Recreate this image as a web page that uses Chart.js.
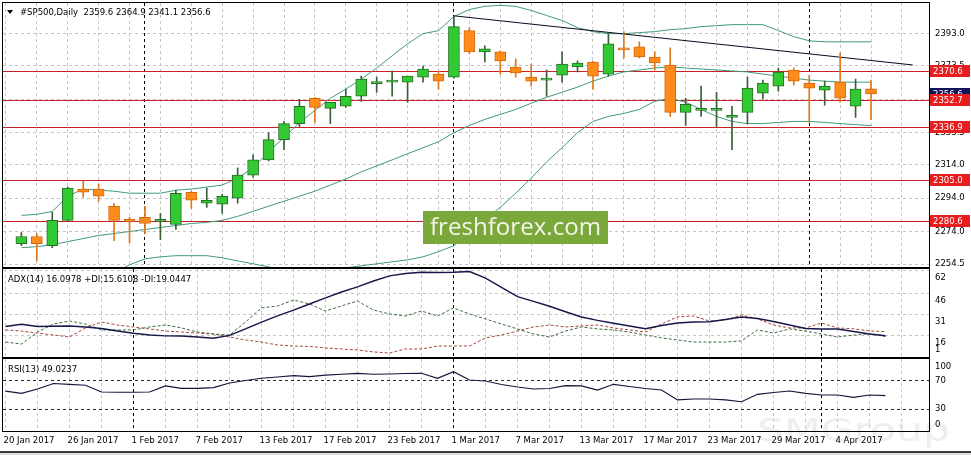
<!DOCTYPE html>
<html>
<head>
<meta charset="utf-8">
<title>#SP500,Daily</title>
<script src="https://cdn.jsdelivr.net/npm/chart.js@4.4.1/dist/chart.umd.min.js"></script>
<style>
  html, body { margin: 0; padding: 0; background: #fff; }
  #wrap { position: relative; width: 971px; height: 455px; overflow: hidden; background: #fff; }
  canvas { position: absolute; left: 0; }
</style>
</head>
<body>
<div id="wrap">
  <canvas id="main" width="971" height="268" style="top:0px"></canvas>
  <canvas id="adx" width="971" height="90" style="top:268px"></canvas>
  <canvas id="rsi" width="971" height="97" style="top:358px"></canvas>
</div>
<script>
// ---- data ----
const dateLabels = ['20 Jan 2017', '26 Jan 2017', '1 Feb 2017', '7 Feb 2017', '13 Feb 2017', '17 Feb 2017',
  '23 Feb 2017', '1 Mar 2017', '7 Mar 2017', '13 Mar 2017', '17 Mar 2017', '23 Mar 2017', '29 Mar 2017', '4 Apr 2017'];
const monthStarts = [8, 28, 51];

const open = [2266.7, 2271.0, 2265.5, 2280.7, 2299.5, 2299.5, 2289.2, 2281.3, 2282.5, 2280.1,
  2278.2, 2297.6, 2291.0, 2290.4, 2294.0, 2307.9, 2317.0, 2329.2, 2338.8, 2354.0,
  2347.9, 2349.2, 2355.2, 2362.8, 2363.7, 2363.7, 2366.7, 2368.5, 2366.7, 2394.6,
  2381.9, 2381.9, 2372.8, 2366.7, 2364.9, 2367.9, 2372.8, 2375.8, 2368.5, 2383.7,
  2384.9, 2378.8, 2374.0, 2345.5, 2346.7, 2346.7, 2342.5, 2345.5, 2357.0, 2361.3,
  2371.0, 2363.1, 2358.8, 2363.7, 2349.2, 2359.6];
const high = [2273.4, 2272.8, 2285.5, 2300.7, 2304.3, 2302.5, 2291.0, 2282.5, 2289.2, 2284.9,
  2298.8, 2298.2, 2300.1, 2296.4, 2312.2, 2320.1, 2333.4, 2340.1, 2353.4, 2354.6,
  2351.6, 2359.5, 2367.3, 2366.7, 2370.4, 2367.3, 2373.4, 2370.4, 2403.1, 2396.4,
  2385.5, 2382.5, 2377.6, 2374.6, 2371.0, 2381.9, 2376.4, 2376.4, 2392.8, 2394.0,
  2387.9, 2381.9, 2384.3, 2354.0, 2361.3, 2357.6, 2349.2, 2366.7, 2364.9, 2372.2,
  2372.2, 2367.9, 2364.3, 2381.3, 2365.5, 2364.9];
const low = [2265.5, 2256.4, 2264.3, 2280.1, 2294.6, 2292.2, 2268.5, 2267.3, 2272.8, 2269.2,
  2275.2, 2287.9, 2288.5, 2284.9, 2291.0, 2306.7, 2316.4, 2323.1, 2337.0, 2339.5,
  2338.8, 2348.5, 2352.2, 2357.6, 2355.2, 2351.6, 2363.7, 2359.5, 2366.1, 2380.7,
  2375.8, 2368.5, 2366.7, 2361.3, 2355.2, 2363.7, 2369.8, 2359.5, 2367.3, 2378.2,
  2378.2, 2371.0, 2343.1, 2337.6, 2343.1, 2337.0, 2323.1, 2338.8, 2353.4, 2358.2,
  2361.9, 2339.5, 2349.8, 2351.6, 2342.5, 2341.1];
const close = [2271.0, 2266.7, 2280.7, 2300.1, 2297.6, 2295.2, 2280.7, 2280.1, 2278.8, 2281.3,
  2297.0, 2292.8, 2292.8, 2295.2, 2307.9, 2317.0, 2329.2, 2338.8, 2349.2, 2348.5,
  2351.6, 2355.2, 2365.5, 2363.7, 2364.9, 2367.3, 2371.6, 2364.3, 2397.0, 2381.9,
  2383.7, 2376.4, 2369.2, 2364.3, 2366.1, 2374.6, 2375.2, 2367.3, 2386.7, 2383.1,
  2378.8, 2375.2, 2345.5, 2350.4, 2347.9, 2347.3, 2343.7, 2360.1, 2363.1, 2369.8,
  2364.3, 2360.1, 2361.3, 2354.0, 2359.5, 2356.6];

const bbUpper = [2283.7, 2284.3, 2286.1, 2295.2, 2299.5, 2298.8, 2298.2, 2297.0, 2297.0, 2297.0,
  2298.8, 2299.5, 2300.7, 2301.9, 2306.1, 2312.2, 2321.9, 2330.4, 2339.5, 2346.7,
  2354.0, 2359.5, 2365.5, 2372.2, 2379.5, 2386.7, 2392.8, 2394.6, 2403.1, 2407.3,
  2409.2, 2409.8, 2409.2, 2406.7, 2403.7, 2400.7, 2396.4, 2394.0, 2392.8, 2392.8,
  2393.4, 2394.0, 2395.2, 2395.8, 2397.0, 2397.6, 2398.2, 2398.2, 2398.2, 2394.6,
  2391.0, 2388.5, 2387.9, 2387.9, 2387.9, 2387.9];
const bbMiddle = [2264.3, 2264.9, 2266.1, 2267.9, 2269.8, 2271.6, 2272.8, 2274.0, 2275.2, 2276.4,
  2277.6, 2278.8, 2279.5, 2280.7, 2283.1, 2286.1, 2289.2, 2292.2, 2295.2, 2298.2,
  2301.9, 2305.5, 2309.8, 2313.4, 2317.0, 2320.7, 2324.3, 2327.9, 2333.4, 2337.6,
  2341.3, 2344.3, 2347.3, 2351.0, 2354.6, 2357.6, 2360.7, 2364.3, 2367.3, 2369.8,
  2371.0, 2372.2, 2372.8, 2372.2, 2371.6, 2371.0, 2370.4, 2369.8, 2368.5, 2367.3,
  2366.1, 2364.9, 2364.3, 2363.7, 2363.7, 2363.7];
const bbLower = [2244.9, 2245.5, 2246.1, 2241.9, 2241.3, 2244.3, 2249.2, 2254.0, 2257.6, 2258.8,
  2259.5, 2259.5, 2259.5, 2258.2, 2256.4, 2254.6, 2252.8, 2250.4, 2248.5, 2247.9,
  2249.2, 2252.2, 2253.4, 2254.6, 2255.8, 2257.0, 2258.8, 2261.9, 2265.5, 2272.8,
  2281.3, 2288.5, 2297.0, 2306.1, 2315.8, 2324.3, 2333.4, 2340.1, 2343.1, 2344.9,
  2347.3, 2352.2, 2354.0, 2351.6, 2347.3, 2343.1, 2340.1, 2338.8, 2338.8, 2339.5,
  2340.1, 2340.1, 2339.5, 2338.8, 2338.2, 2337.6];

const trendX = [28, 57.7];
const trendY = [2403.5, 2374.0];
const levels = [2370.6, 2352.7, 2336.9, 2305.0, 2280.6];
const bid = 2356.6;
const priceTicks = [2393.0, 2373.5, 2353.5, 2333.5, 2314.0, 2294.0, 2274.0, 2254.5];

const adx = [22.6, 24.2, 22.6, 22.8, 23.0, 22.3, 21.2, 19.4, 17.8, 16.6,
  16.0, 15.9, 15.2, 14.3, 16.3, 20.9, 25.8, 30.1, 34.3, 38.6,
  42.9, 47.1, 50.7, 54.9, 58.5, 60.2, 61.1, 60.9, 61.1, 61.6,
  57.0, 50.3, 43.8, 40.4, 37.0, 33.1, 29.4, 27.0, 24.9, 23.0,
  21.0, 23.3, 25.1, 25.8, 26.0, 27.6, 29.4, 28.3, 26.2, 23.7,
  21.2, 20.9, 20.9, 19.1, 17.3, 16.1];
const plusDI = [11.6, 10.2, 18.7, 24.4, 26.5, 24.4, 20.2, 20.2, 20.2, 22.3,
  23.7, 21.6, 18.7, 17.3, 16.6, 25.8, 35.8, 37.2, 41.4, 38.6,
  33.6, 37.2, 40.7, 34.3, 31.5, 30.1, 33.6, 30.1, 35.8, 31.5,
  28.0, 24.4, 20.9, 17.3, 15.2, 19.4, 22.3, 20.9, 20.2, 18.7,
  16.6, 14.5, 13.1, 11.6, 11.6, 11.6, 12.4, 20.2, 18.0, 20.9,
  19.4, 17.3, 15.2, 16.5, 17.5, 15.6];
const minusDI = [20.2, 19.4, 18.0, 16.6, 15.2, 21.6, 25.8, 23.7, 22.3, 20.9,
  19.4, 18.7, 18.0, 17.3, 15.2, 13.1, 11.6, 9.5, 8.8, 8.5,
  7.4, 6.7, 6.0, 4.6, 3.8, 6.7, 6.7, 8.8, 8.8, 8.8,
  14.5, 16.6, 19.4, 22.3, 23.7, 22.3, 23.0, 23.7, 21.6, 20.2,
  18.7, 24.4, 29.4, 30.1, 26.5, 27.2, 30.8, 28.0, 23.7, 21.6,
  21.6, 25.1, 21.6, 21.0, 19.5, 19.0];
const adxTicks = [62, 46, 31, 16, 1];

const rsi = [55.4, 52.4, 58.6, 66.4, 65.3, 63.9, 54.3, 53.9, 53.9, 54.3,
  62.9, 59.6, 59.6, 60.5, 67.1, 70.7, 73.9, 75.7, 77.6, 76.1,
  78.3, 79.6, 81.0, 79.6, 80.0, 80.7, 81.0, 73.9, 83.3, 71.4,
  70.0, 65.0, 61.4, 58.6, 59.3, 63.3, 62.9, 57.1, 65.3, 62.1,
  59.3, 57.1, 42.9, 44.3, 44.3, 42.9, 40.4, 51.0, 53.6, 55.7,
  52.4, 50.0, 50.0, 46.7, 50.0, 49.0];
const rsiTicks = [100, 70, 30, 0];

// ---- look ----
const FONT = "'DejaVu Sans', Tahoma, sans-serif";
const FS = 8.5;
const GRID = '#c4c4c4';
const BULL = '#33c933', BULL_EDGE = '#237023', BULL_WICK = '#3b5e3b';
const BEAR = '#ff8c1a', BEAR_EDGE = '#cf6a0c', BEAR_WICK = '#e0781a';
const BB = '#3f9a7c';
const LEVEL = '#cc1f26';
const X_MIN = -0.15625, X_MAX = 57.71875;

const gridBars = [];
for (let b = 0; b <= 56; b += 2) gridBars.push(b);

const pts = arr => arr.map((v, i) => ({x: i, y: v}));
const up = open.map((o, i) => close[i] >= o);

function xAxis(showLabels) {
  return {
    type: 'linear', min: X_MIN, max: X_MAX,
    afterBuildTicks: s => { s.ticks = gridBars.map(v => ({value: v})); },
    afterFit: s => { s.height = showLabels ? 24 : 0; s.paddingLeft = 0; s.paddingRight = 0; },
    grid: {color: GRID, drawTicks: false},
    border: {display: false, dash: [3, 3]},
    ticks: showLabels ? {
      autoSkip: false, maxRotation: 0, align: 'start', labelOffset: -2, padding: 5,
      color: '#000', font: {family: FONT, size: FS},
      callback: v => (v % 4 === 0 && dateLabels[v / 4]) ? dateLabels[v / 4] : ''
    } : {display: false}
  };
}

function yAxis(min, max, ticks, opts) {
  return Object.assign({
    position: 'right', min: min, max: max,
    afterBuildTicks: s => { s.ticks = ticks.map(v => ({value: v})); },
    afterFit: s => { s.width = 42; s.paddingTop = 0; s.paddingBottom = 0; },
    grid: {color: GRID, drawTicks: false},
    border: {display: false, dash: [3, 3]}
  }, opts);
}

function hline(ctx, x1, x2, y) {
  ctx.beginPath(); ctx.moveTo(x1, y); ctx.lineTo(x2, y); ctx.stroke();
}

function text(ctx, s, x, y, color, font, align) {
  ctx.fillStyle = color;
  ctx.font = font || (FS + 'px ' + FONT);
  ctx.textAlign = align || 'left';
  ctx.textBaseline = 'middle';
  ctx.fillText(s, x, y);
}

// shared pane decoration: month separators under the data, frame on top
const pane = {
  id: 'pane',
  beforeDatasetsDraw(chart) {
    const {ctx, chartArea: a, scales: {x}} = chart;
    ctx.save();
    ctx.strokeStyle = '#000';
    ctx.lineWidth = 1;
    ctx.setLineDash([3, 3]);
    monthStarts.forEach(b => {
      const px = Math.floor(x.getPixelForValue(b)) + 0.5;
      ctx.beginPath(); ctx.moveTo(px, a.top); ctx.lineTo(px, a.bottom); ctx.stroke();
    });
    ctx.restore();
  },
  afterDraw(chart) {
    const {ctx, chartArea: a} = chart;
    ctx.save();
    ctx.strokeStyle = '#000';
    ctx.lineWidth = 1;
    ctx.strokeRect(a.left - 0.5, a.top - 0.5, a.width + 1, a.height + 1);
    ctx.restore();
  }
};

function tag(ctx, a, yPix, label, bg) {
  const top = Math.round(yPix) - 6;
  ctx.fillStyle = bg;
  ctx.fillRect(a.right + 1, top, 40, 12);
  text(ctx, label, a.right + 4, top + 6.5, '#fff');
}

const mainDecor = {
  id: 'mainDecor',
  beforeDatasetsDraw(chart) {
    const {ctx, chartArea: a, scales: {y}} = chart;
    ctx.save();
    ctx.strokeStyle = LEVEL;
    ctx.lineWidth = 1;
    levels.forEach(v => hline(ctx, a.left, a.right, Math.round(y.getPixelForValue(v)) + 0.5));
    ctx.restore();
  },
  afterDraw(chart) {
    const {ctx, chartArea: a, scales: {y}} = chart;
    ctx.save();
    tag(ctx, a, y.getPixelForValue(bid), bid.toFixed(1), '#12125a');
    levels.forEach(v => tag(ctx, a, y.getPixelForValue(v), v.toFixed(1), '#e61e1e'));

    // header
    ctx.fillStyle = '#000';
    ctx.beginPath(); ctx.moveTo(7, 10); ctx.lineTo(13, 10); ctx.lineTo(10, 14); ctx.closePath(); ctx.fill();
    text(ctx, '#SP500,Daily  2359.6 2364.9 2341.1 2356.6', 20, 12.5, '#000');

    // broker watermark
    ctx.fillStyle = '#7ba83b';
    ctx.fillRect(423, 211, 185, 33);
    ctx.font = "25px 'Open Sans', sans-serif";
    const w = ctx.measureText('freshforex.com').width;
    const size = 25 * 171 / w;
    text(ctx, 'freshforex.com', 515.5, 228, '#f3f5ea', size.toFixed(1) + "px 'Open Sans', sans-serif", 'center');
    ctx.restore();
  }
};

const adxDecor = {
  id: 'adxDecor',
  afterDraw(chart) {
    const {ctx, chartArea: a, scales: {y}} = chart;
    ctx.save();
    text(ctx, 'ADX(14) 16.0978 +DI:15.6108 -DI:19.0447', 8, 11.5, '#000');
    text(ctx, '1', a.right + 6, y.getPixelForValue(1) - 7, '#000');
    ctx.restore();
  }
};

const rsiDecor = {
  id: 'rsiDecor',
  beforeDraw(chart) {
    const ctx = chart.ctx;
    ctx.save();
    ctx.font = "32px 'DejaVu Sans', sans-serif";
    const w = ctx.measureText('SMGroup').width;
    ctx.translate(757, 83);
    ctx.scale(193 / w, 1);
    ctx.fillStyle = '#eeeeee';
    ctx.textAlign = 'left';
    ctx.textBaseline = 'alphabetic';
    ctx.fillText('SMGroup', 0, 0);
    ctx.restore();
  },
  afterDraw(chart) {
    const {ctx, chartArea: a, scales: {y}} = chart;
    ctx.save();
    text(ctx, 'RSI(13) 49.0237', 8, 11.5, '#000');
    text(ctx, '100', a.right + 6, y.getPixelForValue(100) + 7, '#000');
    text(ctx, '0', a.right + 6, y.getPixelForValue(0) - 5, '#000');
    ctx.fillStyle = '#3a3a3a';
    ctx.fillRect(0, 93, 971, 2);
    ctx.fillStyle = '#dcdcdc';
    ctx.fillRect(0, 95, 971, 2);
    ctx.restore();
  }
};

const base = {
  responsive: false,
  animation: false,
  devicePixelRatio: 1,
  events: [],
  plugins: {legend: {display: false}, tooltip: {enabled: false}}
};

const tickFont = {family: FONT, size: FS};

// ---- price pane ----
new Chart(document.getElementById('main'), {
  type: 'bar',
  data: {
    datasets: [
      {
        label: 'body',
        data: open.map((o, i) => ({x: i, y: [o, close[i]]})),
        backgroundColor: up.map(u => u ? BULL : BEAR),
        borderColor: up.map(u => u ? BULL_EDGE : BEAR_EDGE),
        borderWidth: 1, borderSkipped: false,
        barThickness: 11, minBarLength: 2, grouped: false
      },
      {
        label: 'wick',
        data: low.map((l, i) => ({x: i, y: [l, high[i]]})),
        backgroundColor: up.map(u => u ? BULL_WICK : BEAR_WICK),
        borderWidth: 0, barThickness: 1, grouped: false
      },
      {
        type: 'line', label: 'trend',
        data: trendX.map((x, i) => ({x: x, y: trendY[i]})),
        borderColor: '#0a0a1e', borderWidth: 1, pointRadius: 0
      },
      {type: 'line', label: 'BB upper', data: pts(bbUpper), borderColor: BB, borderWidth: 1, pointRadius: 0},
      {type: 'line', label: 'BB middle', data: pts(bbMiddle), borderColor: BB, borderWidth: 1, pointRadius: 0},
      {type: 'line', label: 'BB lower', data: pts(bbLower), borderColor: BB, borderWidth: 1, pointRadius: 0}
    ]
  },
  options: Object.assign({}, base, {
    layout: {padding: {left: 3, right: 0, top: 3, bottom: 1}},
    scales: {
      x: xAxis(false),
      y: yAxis(2252.7, 2411.2, priceTicks, {
        ticks: {padding: 6, color: '#000', font: tickFont, callback: v => v.toFixed(1)}
      })
    }
  }),
  plugins: [pane, mainDecor]
});

// ---- ADX pane ----
new Chart(document.getElementById('adx'), {
  type: 'line',
  data: {
    datasets: [
      {label: 'ADX', data: pts(adx), borderColor: '#16164a', borderWidth: 1.4, pointRadius: 0},
      {label: '+DI', data: pts(plusDI), borderColor: '#3d6b3d', borderWidth: 1, borderDash: [3, 2], pointRadius: 0},
      {label: '-DI', data: pts(minusDI), borderColor: '#a3493a', borderWidth: 1, borderDash: [3, 2], pointRadius: 0}
    ]
  },
  options: Object.assign({}, base, {
    layout: {padding: {left: 3, right: 0, top: 1, bottom: 1}},
    scales: {
      x: xAxis(false),
      y: yAxis(1, 63.4, adxTicks, {
        grid: {drawTicks: false, color: c => (c.tick && c.tick.value === 1) ? 'rgba(0,0,0,0)' : GRID},
        ticks: {padding: 6, labelOffset: 7, color: '#000', font: tickFont,
          callback: v => v === 1 ? '' : String(v)}
      })
    }
  }),
  plugins: [pane, adxDecor]
});

// ---- RSI pane + time axis ----
new Chart(document.getElementById('rsi'), {
  type: 'line',
  data: {
    datasets: [
      {label: 'RSI', data: pts(rsi), borderColor: '#14143c', borderWidth: 1.2, pointRadius: 0}
    ]
  },
  options: Object.assign({}, base, {
    layout: {padding: {left: 3, right: 0, top: 1, bottom: 0}},
    scales: {
      x: xAxis(true),
      y: yAxis(-1.4, 101.4, rsiTicks, {
        grid: {drawTicks: false, color: c => (c.tick && (c.tick.value === 70 || c.tick.value === 30)) ? '#2a2a2a' : 'rgba(0,0,0,0)'},
        ticks: {padding: 6, color: '#000', font: tickFont,
          callback: v => (v === 70 || v === 30) ? String(v) : ''}
      })
    }
  }),
  plugins: [pane, rsiDecor]
});
</script>
</body>
</html>
